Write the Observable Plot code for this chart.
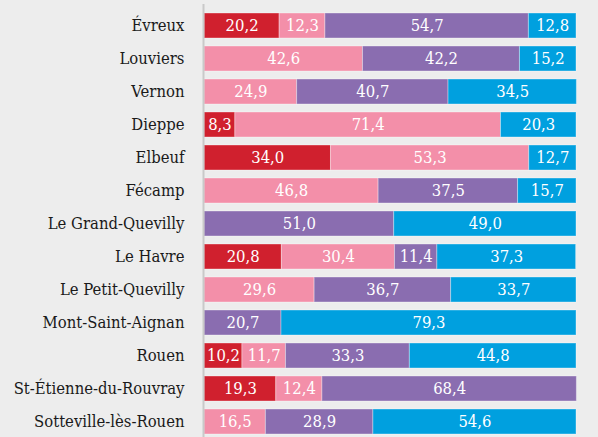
<!DOCTYPE html>
<html>
<head>
<meta charset="utf-8">
<script src="https://cdn.jsdelivr.net/npm/d3@7"></script>
<script src="https://cdn.jsdelivr.net/npm/@observablehq/plot@0.6"></script>
<style>
  html, body { margin: 0; padding: 0; background: #ededed; overflow: hidden; }
  svg text { font-family: "DejaVu Serif Condensed", "DejaVu Serif", serif !important; font-stretch: condensed; }
</style>
</head>
<body>
<div id="chart"></div>
<script>
const cities = ["Évreux", "Louviers", "Vernon", "Dieppe", "Elbeuf", "Fécamp", "Le Grand-Quevilly", "Le Havre", "Le Petit-Quevilly", "Mont-Saint-Aignan", "Rouen", "St-Étienne-du-Rouvray", "Sotteville-lès-Rouen"];
const categories = ["A", "B", "C", "D"];
const colors = ["#d0202e", "#f38fa9", "#8a6db0", "#00a0df"];
const seriesA = [20.2, 0, 0, 8.3, 34.0, 0, 0, 20.8, 0, 0, 10.2, 19.3, 0];
const seriesB = [12.3, 42.6, 24.9, 71.4, 53.3, 46.8, 0, 30.4, 29.6, 0, 11.7, 12.4, 16.5];
const seriesC = [54.7, 42.2, 40.7, 0, 0, 37.5, 51.0, 11.4, 36.7, 20.7, 33.3, 68.4, 28.9];
const seriesD = [12.8, 15.2, 34.5, 20.3, 12.7, 15.7, 49.0, 37.3, 33.7, 79.3, 44.8, 0, 54.6];

const series = [seriesA, seriesB, seriesC, seriesD];
const data = [];
cities.forEach((city, i) => {
  series.forEach((s, j) => {
    if (s[i] > 0) data.push({city, cat: categories[j], value: s[i]});
  });
});
const fmt = v => v.toFixed(1).replace(".", ",");

const chart = Plot.plot({
  width: 598,
  height: 442,
  marginTop: 4,
  marginBottom: 0,
  marginLeft: 204,
  marginRight: 22,
  style: {background: "#ededed", fontSize: "16.5px"},
  x: {domain: [0, 100], axis: null},
  y: {domain: cities, paddingInner: 0.25, paddingOuter: 0.125, label: null},
  color: {domain: categories, range: colors},
  marks: [
    Plot.barX(data, Plot.stackX({x: "value", y: "city", z: "cat", fill: "cat", stroke: "white", strokeOpacity: 0.35, strokeWidth: 1, order: categories})),
    Plot.text(data, Plot.stackX({x: "value", y: "city", z: "cat", order: categories, text: d => fmt(d.value), fill: "white", fontSize: 16.5})),
    Plot.ruleX([0], {stroke: "#c9c9c9", strokeWidth: 2, dx: -1}),
    Plot.axisY({tickSize: 0, tickPadding: 20, fontSize: 16.5, label: null, fill: "#1a1a1a"})
  ]
});
document.getElementById("chart").appendChild(chart);
</script>
</body>
</html>
